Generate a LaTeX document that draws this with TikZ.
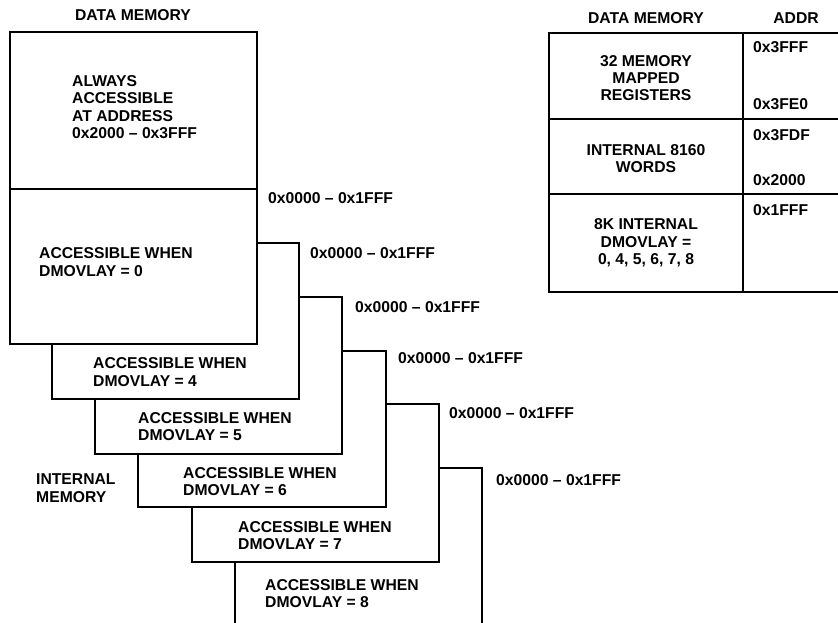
\documentclass[tikz,border=0pt]{standalone}
\usepackage{fontspec}
\setmainfont{Liberation Sans}
\tikzset{
  every node/.style={inner sep=0pt, font=\bfseries\fontsize{15.7}{17.4}\selectfont},
  blk/.style={draw, line width=2.2pt, fill=white},
  txt/.style={anchor=west, align=left},
  ctr/.style={align=center},
}
\begin{document}
\begin{tikzpicture}[x=1pt,y=-1pt]
\useasboundingbox (0,0) rectangle (838,622);

% overlay blocks, back to front
\draw[blk] (235,640) -- (235,468) -- (482,468) -- (482,640);
\draw[blk] (192,404) rectangle (439,562);
\draw[blk] (138,351) rectangle (386,507);
\draw[blk] (95,297) rectangle (342,454);
\draw[blk] (52,243) rectangle (299,399);
\draw[blk] (10,32) rectangle (257,344);
\draw[line width=2.2pt] (10,189) -- (257,189);

\node (dmtitle) at (133,15) {DATA MEMORY};
\node[txt] (always) at (72,107) {ALWAYS\\ACCESSIBLE\\AT ADDRESS\\0x2000 -- 0x3FFF};
\node[txt] (acc0) at (39,262) {ACCESSIBLE WHEN\\DMOVLAY = 0};
\node[txt] (acc4) at (93,372) {ACCESSIBLE WHEN\\DMOVLAY = 4};
\node[txt] (acc5) at (138,426.5) {ACCESSIBLE WHEN\\DMOVLAY = 5};
\node[txt] (acc6) at (183,481.5) {ACCESSIBLE WHEN\\DMOVLAY = 6};
\node[txt] (acc7) at (238,535.5) {ACCESSIBLE WHEN\\DMOVLAY = 7};
\node[txt] (acc8) at (265,593.5) {ACCESSIBLE WHEN\\DMOVLAY = 8};
\node[txt] (intmem) at (36,488) {INTERNAL\\MEMORY};

\node[txt] (range0) at (268,198) {0x0000 -- 0x1FFF};
\node[txt] (range4) at (310,253) {0x0000 -- 0x1FFF};
\node[txt] (range5) at (355,307) {0x0000 -- 0x1FFF};
\node[txt] (range6) at (398,358) {0x0000 -- 0x1FFF};
\node[txt] (range7) at (449,413) {0x0000 -- 0x1FFF};
\node[txt] (range8) at (496,480) {0x0000 -- 0x1FFF};

% memory map table
\draw[line width=2.2pt] (845,33) -| (549,292) -- (845,292);
\draw[line width=2.2pt] (549,119) -- (845,119);
\draw[line width=2.2pt] (549,194) -- (845,194);
\draw[line width=2.2pt] (743,33) -- (743,292);

\node (tdm) at (646,18) {DATA MEMORY};
\node (taddr) at (796,18) {ADDR};
\node[ctr] (regs) at (646,78) {32 MEMORY\\MAPPED\\REGISTERS};
\node[ctr] (words) at (646,158.5) {INTERNAL 8160\\WORDS};
\node[ctr] (eightk) at (646,243) {8K INTERNAL\\DMOVLAY =\\0, 4, 5, 6, 7, 8};

\node[txt] (a3fff) at (753,47) {0x3FFF};
\node[txt] (a3fe0) at (753,104) {0x3FE0};
\node[txt] (a3fdf) at (753,135) {0x3FDF};
\node[txt] (a2000) at (753,180) {0x2000};
\node[txt] (a1fff) at (753,210) {0x1FFF};

\end{tikzpicture}
\end{document}
